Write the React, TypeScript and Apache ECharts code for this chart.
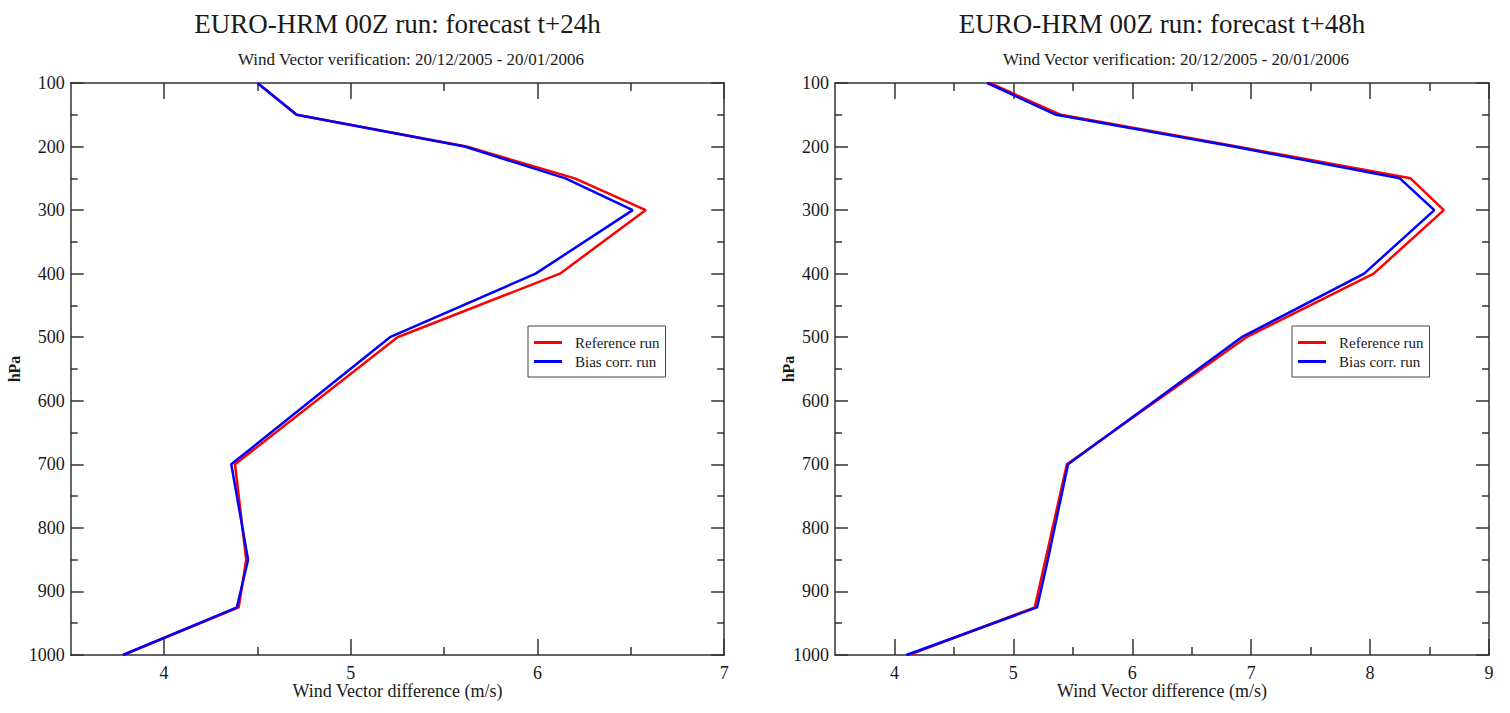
import React, { useEffect, useRef } from "react";
import * as echarts from "echarts";

const levels = [100, 150, 200, 250, 300, 400, 500, 700, 850, 925, 1000];
const ref24 = [4.5, 4.71, 5.62, 6.2, 6.58, 6.12, 5.25, 4.38, 4.44, 4.4, 3.78];
const bias24 = [4.5, 4.71, 5.61, 6.15, 6.51, 5.99, 5.21, 4.36, 4.45, 4.39, 3.78];
const ref48 = [4.8, 5.4, 6.88, 8.34, 8.62, 8.03, 6.96, 5.45, 5.27, 5.18, 4.12];
const bias48 = [4.78, 5.36, 6.85, 8.25, 8.54, 7.95, 6.92, 5.46, 5.29, 5.2, 4.1];

const majorX24 = [4, 5, 6, 7];
const minorX24 = [4.5, 5.5, 6.5];
const majorX48 = [4, 5, 6, 7, 8, 9];
const minorX48 = [4.5, 5.5, 6.5, 7.5, 8.5];

const titles = ["EURO-HRM 00Z run: forecast t+24h", "EURO-HRM 00Z run: forecast t+48h"];
const subtitle = "Wind Vector verification: 20/12/2005 - 20/01/2006";
const xName = "Wind Vector difference (m/s)";
const yName = "hPa";
const seriesNames = ["Reference run", "Bias corr. run"];

const FONT = "'Liberation Serif', 'Times New Roman', serif";
const AX = "#333";
const TXT = "#1a1a1a";

export default function App() {
  const ref = useRef<HTMLDivElement>(null);
  useEffect(() => {
    if (!ref.current) return;
    const chart = echarts.init(ref.current, undefined, { renderer: "svg" });

    const grids = [
      { left: 70.7, top: 83, width: 653.5, height: 572 },
      { left: 835, top: 83, width: 654, height: 572 },
    ];
    const xMaxes = [7, 9];
    const majors = [majorX24, majorX48];
    const minors = [minorX24, minorX48];

    const xAxes: any[] = [];
    const yAxes: any[] = [];
    for (let g = 0; g < 2; g++) {
      const base = {
        type: "value",
        gridIndex: g,
        min: 3.5,
        max: xMaxes[g],
        splitLine: { show: false },
      };
      xAxes.push({
        ...base,
        position: "bottom",
        axisLine: { show: true, onZero: false, lineStyle: { color: AX, width: 1.5 } },
        axisTick: { show: true, inside: true, length: 16, customValues: majors[g], lineStyle: { color: AX, width: 1.5 } },
        axisLabel: { show: true, customValues: majors[g], margin: 9, fontSize: 18, fontFamily: FONT, color: TXT },
      });
      xAxes.push({
        ...base,
        position: "bottom",
        axisLine: { show: false, onZero: false },
        axisTick: { show: true, inside: true, length: 8, customValues: minors[g], lineStyle: { color: AX, width: 1.5 } },
        axisLabel: { show: false },
      });
      xAxes.push({
        ...base,
        position: "top",
        axisLine: { show: true, onZero: false, lineStyle: { color: AX, width: 1.5 } },
        axisTick: { show: true, inside: true, length: 16, customValues: majors[g], lineStyle: { color: AX, width: 1.5 } },
        axisLabel: { show: false },
      });
      xAxes.push({
        ...base,
        position: "top",
        axisLine: { show: false, onZero: false },
        axisTick: { show: true, inside: true, length: 8, customValues: minors[g], lineStyle: { color: AX, width: 1.5 } },
        axisLabel: { show: false },
      });
      const ybase = {
        type: "value",
        gridIndex: g,
        inverse: true,
        min: 100,
        max: 1000,
        interval: 100,
        splitLine: { show: false },
        minorSplitLine: { show: false },
        axisLine: { show: true, onZero: false, lineStyle: { color: AX, width: 1.5 } },
        axisTick: { show: true, inside: true, length: 13, lineStyle: { color: AX, width: 1.5 } },
        minorTick: { show: true, splitNumber: 2, length: 7, lineStyle: { color: AX, width: 1.5 } },
      };
      yAxes.push({
        ...ybase,
        position: "left",
        axisLabel: {
          show: true,
          margin: 6,
          fontSize: 18,
          fontFamily: FONT,
          color: TXT,
          formatter: (v: number) => String(v),
        },
      });
      yAxes.push({ ...ybase, position: "right", axisLabel: { show: false } });
    }

    const mk = (vals: number[]) => vals.map((v, i) => [v, levels[i]]);
    const seriesData = [
      [ref24, bias24],
      [ref48, bias48],
    ];
    const colors = ["#ff0000", "#0000ff"];
    const series: any[] = [];
    for (let g = 0; g < 2; g++) {
      for (let s = 0; s < 2; s++) {
        series.push({
          type: "line",
          name: seriesNames[s],
          xAxisIndex: g * 4,
          yAxisIndex: g * 2,
          data: mk(seriesData[g][s]),
          symbol: "none",
          color: colors[s],
          lineStyle: { color: colors[s], width: 2.5 },
          z: 3 + s,
        });
      }
    }

    const legendBase = {
      orient: "vertical",
      top: 326,
      padding: [9, 6, 8, 6],
      itemGap: 4,
      itemWidth: 28,
      itemHeight: 3,
      icon: "rect",
      borderColor: "#444",
      borderWidth: 1,
      backgroundColor: "#fff",
      textStyle: { fontFamily: FONT, fontSize: 15, lineHeight: 15, color: TXT, padding: [0, 0, 0, 8] },
      data: seriesNames,
      selectedMode: false,
    };

    const centers = [397.5, 1162];
    const subCenters = [411, 1176];
    const graphics: any[] = [];
    for (let g = 0; g < 2; g++) {
      graphics.push({
        type: "text",
        x: centers[g],
        y: 24,
        style: { text: titles[g], font: `27px ${FONT}`, fill: TXT, align: "center", verticalAlign: "middle" },
      });
      graphics.push({
        type: "text",
        x: subCenters[g],
        y: 59,
        style: { text: subtitle, font: `17px ${FONT}`, fill: TXT, align: "center", verticalAlign: "middle" },
      });
      graphics.push({
        type: "text",
        x: centers[g],
        y: 691,
        style: { text: xName, font: `18px ${FONT}`, fill: TXT, align: "center", verticalAlign: "middle" },
      });
      graphics.push({
        type: "text",
        x: g === 0 ? 14 : 788,
        y: 369,
        rotation: Math.PI / 2,
        style: { text: yName, font: `bold 16px ${FONT}`, fill: TXT, align: "center", verticalAlign: "middle" },
      });
    }

    chart.setOption({
      animation: false,
      backgroundColor: "#ffffff",
      grid: grids,
      xAxis: xAxes,
      yAxis: yAxes,
      legend: [
        { ...legendBase, left: 528 },
        { ...legendBase, left: 1292 },
      ],
      series,
      graphic: graphics,
    });
    return () => chart.dispose();
  }, []);
  return (
    <div
      ref={ref}
      style={{ position: "fixed", left: 0, top: 0, width: 1510, height: 713, background: "#fff" }}
    />
  );
}
